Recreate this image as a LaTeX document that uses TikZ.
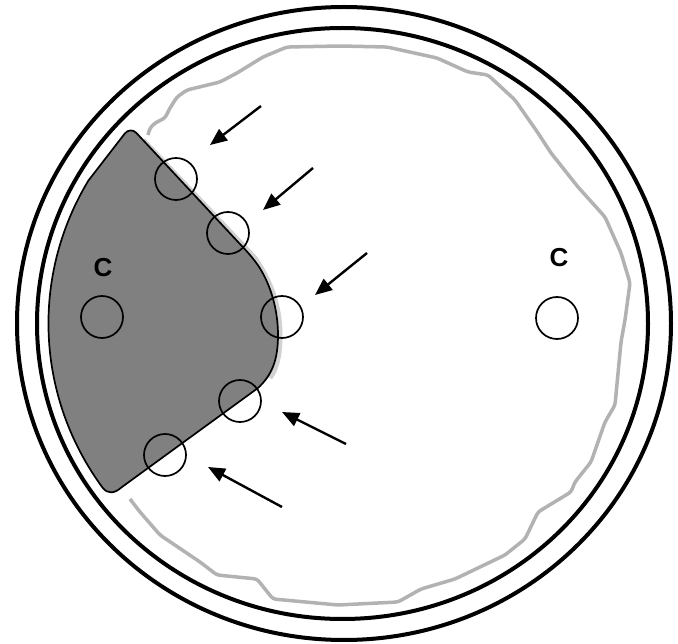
\documentclass[tikz,border=0pt]{standalone}
\usepackage{fontspec}
\newfontfamily\labelfont{Liberation Sans}
\usetikzlibrary{arrows.meta}
\begin{document}
\begin{tikzpicture}[x=1pt,y=-1pt,
  ring/.style={line width=4pt, draw=black},
  well/.style={circle, draw=black, line width=1.7pt, minimum size=42pt, inner sep=0pt},
  pointer/.style={line width=2.4pt, -{Triangle[length=17pt,width=14pt]}},
  clabel/.style={font=\labelfont\bfseries\fontsize{26}{26}\selectfont, inner sep=0pt},
  growth/.style={draw=black!30, line width=3.5pt, line join=round, rounded corners=3pt},
  halo/.style={draw=black!18, line width=5pt},
  zone/.style={fill=black!50, draw=black, line width=1.7pt, line join=round}]
\useasboundingbox (0,0) rectangle (678,644);
\fill[white] (0,0) rectangle (678,644);
% dish rings
\draw[ring] (344,323.5) ellipse [x radius=327, y radius=316.5];
\draw[ring] (342.5,323.5) ellipse [x radius=305.5, y radius=295.5];
% growth boundary
\draw[growth] (148,135) -- (150,128) -- (155,123) -- (165,118) -- (170,108) -- (177,97) -- (187,90) -- (220,82) -- (237,73) -- (263,57) -- (287,47) -- (340,46) -- (387,47) -- (437,58) -- (468,72) -- (488,75) -- (515,100) -- (538,133) -- (551,153) -- (578,187) -- (605,217) -- (621,253) -- (630,283) -- (625,320) -- (621,342) -- (615,405) -- (605,422) -- (591,462) -- (575,482) -- (571,492) -- (538,512) -- (525,539) -- (505,555) -- (455,579) -- (421,589) -- (398,602) -- (338,605) -- (273,599) -- (257,579) -- (217,575) -- (200,562) -- (160,535) -- (140,512) -- (130,499);
% soft halo along the zone edge
\draw[halo] (143,140) -- (255,258) .. controls (270,280) and (280,305) .. (280,335) .. controls (280,355) and (277,368) .. (270,378);
% inhibition zone
\draw[zone] (88.7,180.2) [rounded corners=9pt] -- (130.3,126.4) -- (253,258) [sharp corners] .. controls (268,280) and (278,305) .. (278,335) .. controls (278,360) and (272,375) .. (258,388) -- (122,487) .. controls (114,494) and (108,494) .. (102.8,488) arc[start angle=144.6, end angle=210.3, x radius=294, y radius=284] -- cycle;
% wells
\node[well] (w1) at (176,179) {};
\node[well] (w2) at (228,233) {};
\node[well] (w3) at (282,317) {};
\node[well] (w4) at (240,401) {};
\node[well] (w5) at (165,455) {};
\node[well] (cl) at (102,317) {};
\node[well] (cr) at (557,318) {};
% labels
\node[clabel] (lc1) at (103,268) {C};
\node[clabel] (lc2) at (559,258) {C};
% arrows
\coordinate (t1) at (261,106); \coordinate (h1) at (210,145);
\coordinate (t2) at (313,168); \coordinate (h2) at (263,210);
\coordinate (t3) at (367,253); \coordinate (h3) at (315,295);
\coordinate (t4) at (346,444); \coordinate (h4) at (282,412);
\coordinate (t5) at (282,507); \coordinate (h5) at (208,467);
\draw[pointer] (t1) -- (h1);
\draw[pointer] (t2) -- (h2);
\draw[pointer] (t3) -- (h3);
\draw[pointer] (t4) -- (h4);
\draw[pointer] (t5) -- (h5);
\end{tikzpicture}
\end{document}
